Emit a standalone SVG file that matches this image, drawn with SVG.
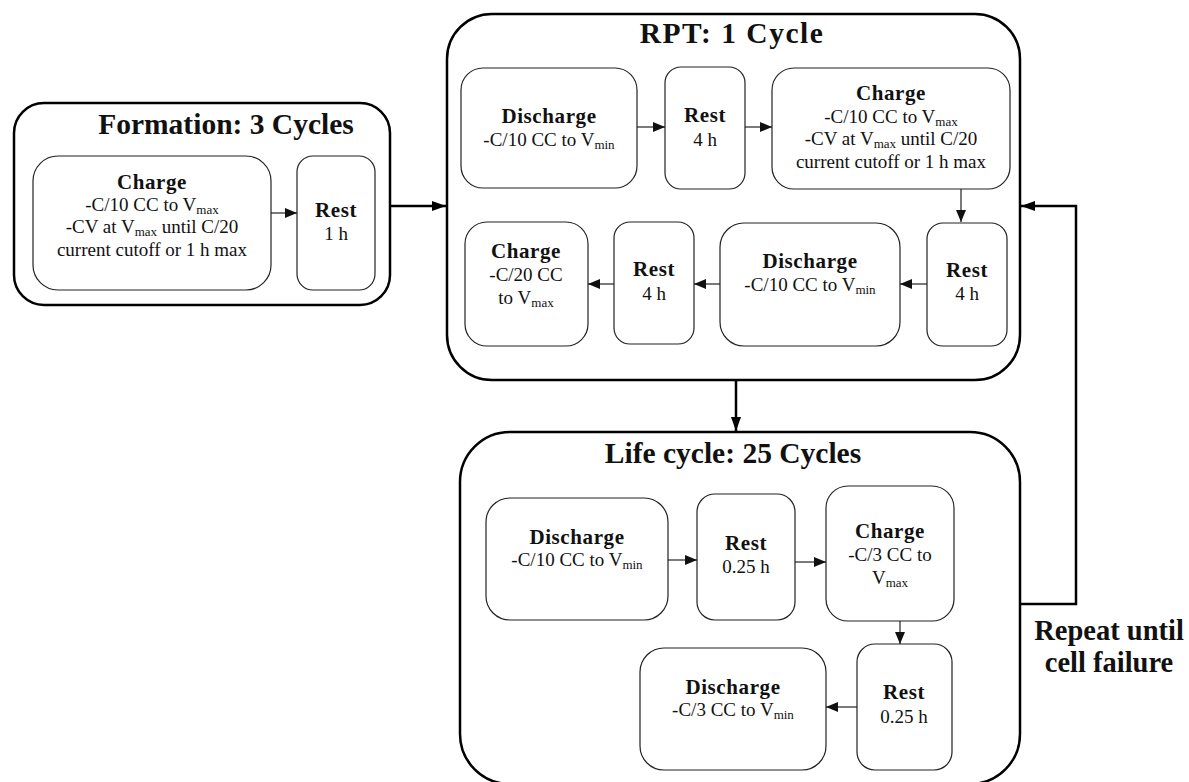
<svg xmlns="http://www.w3.org/2000/svg" width="1189" height="782" viewBox="0 0 1189 782">
<style>
.outer{fill:#fff;stroke:#000;stroke-width:2.5}
.box{fill:#fff;stroke:#222;stroke-width:1.2}
.t{font-family:"Liberation Serif","Times New Roman",serif;font-weight:bold;font-size:29.5px;fill:#111;text-anchor:middle}
.h{font-family:"Liberation Serif","Times New Roman",serif;font-weight:bold;font-size:21px;fill:#111;text-anchor:middle;letter-spacing:0.6px}
.b{font-family:"Liberation Serif","Times New Roman",serif;font-size:19px;fill:#111;text-anchor:middle}
.s{font-size:13px}
.thin{stroke:#222;stroke-width:1.2;fill:none}
.thick{stroke:#000;stroke-width:2.5;fill:none}
</style>
<defs>
<marker id="a" markerUnits="userSpaceOnUse" markerWidth="12" markerHeight="10" refX="12" refY="5" orient="auto"><path d="M0,0 L12,5 L0,10 Z" fill="#111"/></marker>
<marker id="A" markerUnits="userSpaceOnUse" markerWidth="14" markerHeight="10" refX="14" refY="5" orient="auto"><path d="M0,0 L14,5 L0,10 Z" fill="#000"/></marker>
</defs>
<rect width="1189" height="782" fill="#fff"/>

<g id="formation">
<rect class="outer" x="14" y="103" width="376" height="202" rx="30"/>
<text class="t" x="226" y="134">Formation: 3 Cycles</text>
<g id="f-charge">
<rect class="box" x="33" y="156" width="238" height="134" rx="25"/>
<text class="h" x="152" y="189">Charge</text>
<text class="b" x="152" y="211">-C/10 CC to V<tspan class="s" dy="3">max</tspan></text>
<text class="b" x="152" y="233">-CV at V<tspan class="s" dy="3">max</tspan><tspan dy="-3"> until C/20</tspan></text>
<text class="b" x="152" y="256">current cutoff or 1 h max</text>
</g>
<g id="f-rest">
<rect class="box" x="297" y="156" width="78" height="134" rx="16"/>
<text class="h" x="336" y="217">Rest</text>
<text class="b" x="336" y="240">1 h</text>
</g>
</g>

<g id="rpt">
<rect class="outer" x="447" y="14" width="573" height="366" rx="45"/>
<text class="t" x="732" y="43" style="letter-spacing:1.5px">RPT: 1 Cycle</text>
<g id="r-discharge1">
<rect class="box" x="461" y="68" width="176" height="120" rx="22"/>
<text class="h" x="549" y="123">Discharge</text>
<text class="b" x="549" y="146">-C/10 CC to V<tspan class="s" dy="3">min</tspan></text>
</g>
<g id="r-rest1">
<rect class="box" x="665" y="67" width="80" height="122" rx="16"/>
<text class="h" x="705" y="122">Rest</text>
<text class="b" x="705" y="146">4 h</text>
</g>
<g id="r-charge1">
<rect class="box" x="772" y="68" width="238" height="121" rx="22"/>
<text class="h" x="891" y="100">Charge</text>
<text class="b" x="891" y="123">-C/10 CC to V<tspan class="s" dy="3">max</tspan></text>
<text class="b" x="891" y="145">-CV at V<tspan class="s" dy="3">max</tspan><tspan dy="-3"> until C/20</tspan></text>
<text class="b" x="891" y="168">current cutoff or 1 h max</text>
</g>
<g id="r-rest2">
<rect class="box" x="927" y="223" width="80" height="123" rx="16"/>
<text class="h" x="967" y="277">Rest</text>
<text class="b" x="967" y="300">4 h</text>
</g>
<g id="r-discharge2">
<rect class="box" x="720" y="223" width="180" height="123" rx="24"/>
<text class="h" x="810" y="268">Discharge</text>
<text class="b" x="810" y="291">-C/10 CC to V<tspan class="s" dy="3">min</tspan></text>
</g>
<g id="r-rest3">
<rect class="box" x="614" y="222" width="80" height="122" rx="16"/>
<text class="h" x="654" y="276">Rest</text>
<text class="b" x="654" y="300">4 h</text>
</g>
<g id="r-charge2">
<rect class="box" x="465" y="222" width="123" height="124" rx="22"/>
<text class="h" x="526" y="258">Charge</text>
<text class="b" x="526" y="281">-C/20 CC</text>
<text class="b" x="526" y="304">to V<tspan class="s" dy="3">max</tspan></text>
</g>
</g>

<g id="lifecycle">
<rect class="outer" x="460" y="432" width="560" height="352" rx="50"/>
<text class="t" x="733" y="463">Life cycle: 25 Cycles</text>
<g id="l-discharge1">
<rect class="box" x="486" y="498" width="182" height="122" rx="24"/>
<text class="h" x="577" y="544">Discharge</text>
<text class="b" x="577" y="566">-C/10 CC to V<tspan class="s" dy="3">min</tspan></text>
</g>
<g id="l-rest1">
<rect class="box" x="697" y="494" width="98" height="126" rx="18"/>
<text class="h" x="746" y="550">Rest</text>
<text class="b" x="746" y="573">0.25 h</text>
</g>
<g id="l-charge">
<rect class="box" x="826" y="486" width="128" height="135" rx="22"/>
<text class="h" x="890" y="538">Charge</text>
<text class="b" x="890" y="561">-C/3 CC to</text>
<text class="b" x="890" y="584">V<tspan class="s" dy="3">max</tspan></text>
</g>
<g id="l-rest2">
<rect class="box" x="857" y="644" width="95" height="126" rx="18"/>
<text class="h" x="904" y="699">Rest</text>
<text class="b" x="904" y="723">0.25 h</text>
</g>
<g id="l-discharge2">
<rect class="box" x="640" y="648" width="186" height="122" rx="24"/>
<text class="h" x="733" y="694">Discharge</text>
<text class="b" x="733" y="716">-C/3 CC to V<tspan class="s" dy="3">min</tspan></text>
</g>
</g>

<g id="repeat-label">
<text class="t" x="1109" y="640" style="font-size:28.5px">Repeat until</text>
<text class="t" x="1109" y="672" style="font-size:28.5px">cell failure</text>
</g>

<g id="connectors">
<line class="thick" x1="390" y1="206" x2="446" y2="206" marker-end="url(#A)"/>
<line class="thick" x1="736" y1="381" x2="736" y2="431" marker-end="url(#A)"/>
<polyline class="thick" points="1020,604 1076,604 1076,206 1021,206" marker-end="url(#A)"/>
<line class="thin" x1="271" y1="213" x2="297" y2="213" marker-end="url(#a)"/>
<line class="thin" x1="637" y1="127" x2="665" y2="127" marker-end="url(#a)"/>
<line class="thin" x1="745" y1="127" x2="772" y2="127" marker-end="url(#a)"/>
<line class="thin" x1="961" y1="189" x2="961" y2="222" marker-end="url(#a)"/>
<line class="thin" x1="927" y1="284" x2="900" y2="284" marker-end="url(#a)"/>
<line class="thin" x1="720" y1="284" x2="694" y2="284" marker-end="url(#a)"/>
<line class="thin" x1="614" y1="284" x2="588" y2="284" marker-end="url(#a)"/>
<line class="thin" x1="668" y1="560" x2="697" y2="560" marker-end="url(#a)"/>
<line class="thin" x1="795" y1="562" x2="826" y2="562" marker-end="url(#a)"/>
<line class="thin" x1="900" y1="621" x2="900" y2="644" marker-end="url(#a)"/>
<line class="thin" x1="857" y1="707" x2="826" y2="707" marker-end="url(#a)"/>
</g>
</svg>
